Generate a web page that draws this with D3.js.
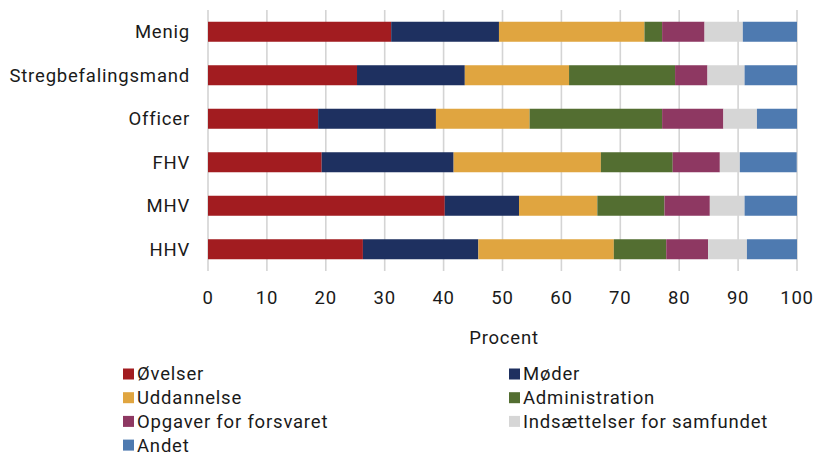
<!DOCTYPE html>
<html>
<head>
<meta charset="utf-8">
<script src="https://cdn.jsdelivr.net/npm/d3@7"></script>
<style>
  body { margin: 0; background: #fff; }
  svg text { font-family: Roboto, "Noto Sans", sans-serif; fill: #1a1a1a; letter-spacing: 0.8px; }
</style>
</head>
<body>
<svg width="813" height="455"></svg>
<script>
const width = 813;
const height = 455;

const categories = ["Menig", "Stregbefalingsmand", "Officer", "FHV", "MHV", "HHV"];
const seriesNames = ["Øvelser", "Møder", "Uddannelse", "Administration",
    "Opgaver for forsvaret", "Indsættelser for samfundet", "Andet"];
const colors = ["#a21c20", "#1e3060", "#e0a540", "#536e31", "#8e3862", "#d6d6d6", "#4e7ab0"];

// one array per series, in category order
const ovelser        = [31.1, 25.3, 18.7, 19.3, 40.2, 26.3];
const moder          = [18.3, 18.3, 20.0, 22.4, 12.6, 19.6];
const uddannelse     = [24.7, 17.7, 15.9, 25.0, 13.3, 23.0];
const administration = [3.0, 18.0, 22.5, 12.2, 11.4, 8.9];
const opgaver        = [7.2, 5.5, 10.4, 8.0, 7.7, 7.1];
const indsaettelser  = [6.5, 6.3, 5.7, 3.4, 5.9, 6.6];
const andet          = [9.25, 9.0, 6.8, 9.65, 9.0, 8.5];
const xTicks = [0, 10, 20, 30, 40, 50, 60, 70, 80, 90, 100];

const seriesValues = [ovelser, moder, uddannelse, administration, opgaver, indsaettelser, andet];
const rows = categories.map((c, i) => {
    const r = { cat: c };
    seriesNames.forEach((s, j) => r[s] = seriesValues[j][i]);
    return r;
});

const svg = d3.select("svg");
const plot = { left: 208, right: 797, top: 10, bottom: 271 };

const x = d3.scaleLinear().domain([0, 100]).range([plot.left, plot.right]);
const y = d3.scaleBand().domain(categories).range([plot.top, plot.bottom]).paddingInner(0.54).paddingOuter(0.27);

// gridlines
svg.append("g")
    .selectAll("line")
    .data(xTicks)
    .join("line")
    .attr("x1", d => x(d)).attr("x2", d => x(d))
    .attr("y1", plot.top).attr("y2", plot.bottom)
    .attr("stroke", "#d4d4d4")
    .attr("stroke-width", 1.6);

const stack = d3.stack().keys(seriesNames)(rows);

svg.append("g")
    .selectAll("g")
    .data(stack)
    .join("g")
    .attr("fill", (d, i) => colors[i])
    .selectAll("rect")
    .data(d => d)
    .join("rect")
    .attr("x", d => x(d[0]))
    .attr("width", d => Math.min(x(d[1]), x(100)) - x(d[0]))
    .attr("y", d => y(d.data.cat))
    .attr("height", y.bandwidth());

// category labels
svg.append("g")
    .selectAll("text")
    .data(categories)
    .join("text")
    .attr("x", 190)
    .attr("y", d => y(d) + y.bandwidth() / 2)
    .attr("dy", "0.35em")
    .attr("text-anchor", "end")
    .attr("font-size", 18.5)
    .text(d => d);

// x tick labels
svg.append("g")
    .selectAll("text")
    .data(xTicks)
    .join("text")
    .attr("x", d => x(d))
    .attr("y", 298)
    .attr("dy", "0.35em")
    .attr("text-anchor", "middle")
    .attr("font-size", 18.5)
    .text(d => d);

svg.append("text")
    .attr("x", 504)
    .attr("y", 338)
    .attr("dy", "0.35em")
    .attr("text-anchor", "middle")
    .attr("font-size", 18.5)
    .text("Procent");

// legend, two columns
const legend = svg.append("g")
    .selectAll("g")
    .data(seriesNames)
    .join("g")
    .attr("transform", (d, i) => `translate(${i % 2 === 0 ? 123 : 509},${374 + Math.floor(i / 2) * 23.7})`);

legend.append("rect")
    .attr("x", 0).attr("y", -5.5)
    .attr("width", 11).attr("height", 11)
    .attr("fill", (d, i) => colors[i]);

legend.append("text")
    .attr("x", 14)
    .attr("dy", "0.35em")
    .attr("font-size", 18.5)
    .text(d => d);
</script>
</body>
</html>
